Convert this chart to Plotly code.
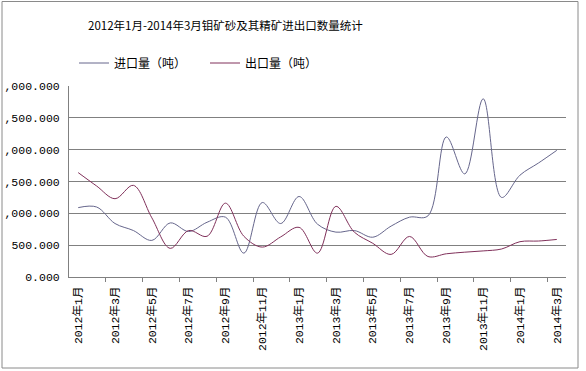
import plotly.graph_objects as go

# ---- data ----
months = [
    "2012年1月", "2012年2月", "2012年3月", "2012年4月", "2012年5月", "2012年6月",
    "2012年7月", "2012年8月", "2012年9月", "2012年10月", "2012年11月", "2012年12月",
    "2013年1月", "2013年2月", "2013年3月", "2013年4月", "2013年5月", "2013年6月",
    "2013年7月", "2013年8月", "2013年9月", "2013年10月", "2013年11月", "2013年12月",
    "2014年1月", "2014年2月", "2014年3月",
]
import_tons = [
    1090, 1100, 840, 730, 575, 850, 715, 860, 940, 375, 1170, 840,
    1265, 830, 705, 730, 625, 800, 940, 960, 2200, 1620, 2800, 1250,
    1600, 1790, 1990,
]
export_tons = [
    1640, 1430, 1230, 1440, 930, 450, 730, 640, 1160, 640, 470, 630,
    780, 375, 1110, 705, 530, 355, 637, 322, 365, 390, 410, 440,
    555, 565, 590,
]
y_tick_vals = [0, 500, 1000, 1500, 2000, 2500, 3000]
y_tick_text = ["0.000", "500.000", ",000.000", ",500.000", ",000.000", ",500.000", ",000.000"]
series_names = ["进口量（吨）", "出口量（吨）"]
title_text = "2012年1月-2014年3月钼矿砂及其精矿进出口数量统计"

# ---- layout constants ----
W, H = 586, 371
ML, MR, MT, MB = 69, 20, 86, 94
PW, PH = W - ML - MR, H - MT - MB
FONT = "Liberation Mono, Noto Sans CJK SC, sans-serif"
CJK = "Noto Sans CJK SC, sans-serif"
GRID = "#808080"

idx = list(range(len(months)))

fig = go.Figure()
fig.add_trace(go.Scatter(
    x=idx, y=import_tons, name=series_names[0], mode="lines",
    line=dict(color="#66668c", width=1, shape="spline", smoothing=1),
))
fig.add_trace(go.Scatter(
    x=idx, y=export_tons, name=series_names[1], mode="lines",
    line=dict(color="#80305a", width=1, shape="spline", smoothing=1),
))


def px_x(px):
    return (px - ML) / PW


def px_y(py):
    return (H - MB - py) / PH


fig.update_layout(
    width=W, height=H, autosize=False,
    margin=dict(l=ML, r=MR, t=MT, b=MB, pad=0, autoexpand=False),
    paper_bgcolor="white", plot_bgcolor="white",
    font=dict(family=FONT, size=12, color="black"),
    title=dict(
        text=title_text, font=dict(family=CJK, size=11.5, color="black"),
        x=88 / W, xref="container", xanchor="left",
        y=1 - 26 / H, yref="container", yanchor="middle",
    ),
    showlegend=True,
    legend=dict(
        orientation="h", x=px_x(74), xanchor="left", y=px_y(63), yanchor="middle",
        font=dict(family=CJK, size=12, color="black"),
        bgcolor="rgba(0,0,0,0)", entrywidth=86, entrywidthmode="pixels",
        itemclick=False,
    ),
    xaxis=dict(
        automargin=False,
        range=[-0.5, len(months) - 0.5],
        tickmode="array", tickvals=idx[::2], ticktext=months[::2],
        tickangle=-90, ticks="", showgrid=False, zeroline=False,
        showline=True, linecolor=GRID, linewidth=1,
        tickfont=dict(family=FONT, size=11.5, color="black"),
        ticklabelstandoff=4,
        minor=dict(
            tickmode="array",
            tickvals=[i + 1.5 for i in idx[::2][:-1]],
            ticks="outside", ticklen=4, tickcolor=GRID, tickwidth=1, showgrid=False,
        ),
    ),
    yaxis=dict(
        automargin=False,
        range=[0, 3001],
        tickmode="array", tickvals=y_tick_vals, ticktext=y_tick_text,
        ticks="", showgrid=True, gridcolor=GRID, gridwidth=1,
        zeroline=False, showline=True, linecolor=GRID, linewidth=1,
        tickfont=dict(family=FONT, size=11.5, color="black"),
        ticklabelstandoff=6,
    ),
    shapes=[dict(
        type="rect", xref="paper", yref="paper",
        x0=px_x(2), x1=px_x(578), y0=px_y(368), y1=px_y(1.5),
        line=dict(color="#8a8a8a", width=1), fillcolor="rgba(0,0,0,0)", layer="above",
    )],
)

fig.write_html(
    "out.html",
    config={"displayModeBar": False},
    post_script="document.body.style.margin='0';",
)
